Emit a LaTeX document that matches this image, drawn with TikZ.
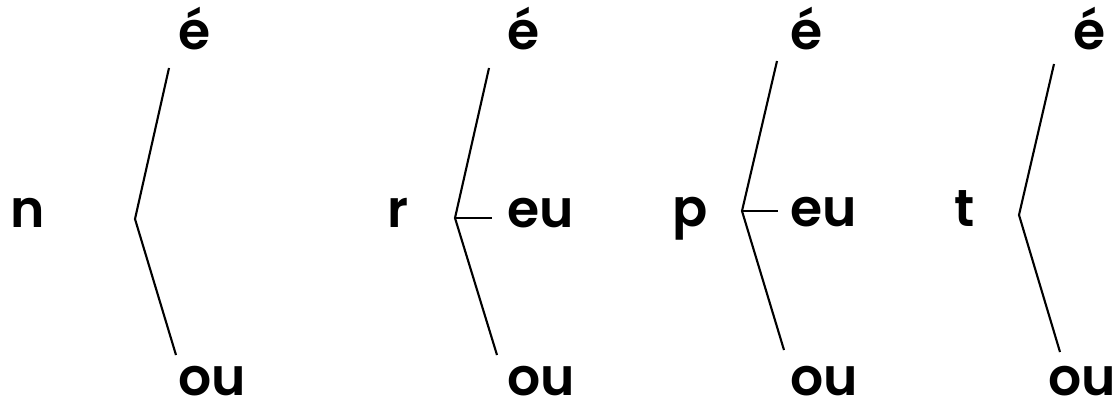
\documentclass[tikz,border=0pt]{standalone}
\usepackage{fontspec}
\setmainfont{Poppins}[UprightFont=* SemiBold, BoldFont=* SemiBold]
\usetikzlibrary{positioning}
\tikzset{
  syl/.style={font=\fontsize{37}{44}\selectfont, inner sep=0pt, anchor=base west},
  branch/.style={line width=1.5pt}
}

\begin{document}
\begin{tikzpicture}[x=0.025cm, y=-0.025cm]
  \useasboundingbox (0,0) rectangle (1119,413);

  % n
  \node[syl] (n)   at (10,228)  {n};
  \node[syl] (nE)  at (178,50)  {é};
  \node[syl] (nOU) at (178,395) {ou};
  \coordinate (nv)   at (135,219);
  \coordinate (ntop) at (169,68);
  \coordinate (nbot) at (176,355);
  \draw[branch] (ntop) -- (nv) -- (nbot);

  % r
  \node[syl] (r)   at (387,228) {r};
  \node[syl] (rE)  at (507,50)  {é};
  \node[syl] (rEU) at (507,228) {eu};
  \node[syl] (rOU) at (507,395) {ou};
  \coordinate (rv)   at (455,218);
  \coordinate (rtop) at (489,68);
  \coordinate (rbot) at (497,355);
  \draw[branch] (rtop) -- (rv) -- (rbot);
  \draw[branch, shorten >=15*0.025cm] (rv) -- (rv -| rEU.west);

  % p
  \node[syl] (p)   at (672,227) {p};
  \node[syl] (pE)  at (790,50)  {é};
  \node[syl] (pEU) at (790,227) {eu};
  \node[syl] (pOU) at (790,395) {ou};
  \coordinate (pv)   at (742,211);
  \coordinate (ptop) at (777,61);
  \coordinate (pbot) at (784,350);
  \draw[branch] (ptop) -- (pv) -- (pbot);
  \draw[branch, shorten >=12*0.025cm] (pv) -- (pv -| pEU.west);

  % t
  \node[syl] (t)   at (954,227)  {t};
  \node[syl] (tE)  at (1073,50)  {é};
  \node[syl] (tOU) at (1048,395) {ou};
  \coordinate (tv)   at (1019,215);
  \coordinate (ttop) at (1054,64);
  \coordinate (tbot) at (1060,352);
  \draw[branch] (ttop) -- (tv) -- (tbot);
\end{tikzpicture}
\end{document}
